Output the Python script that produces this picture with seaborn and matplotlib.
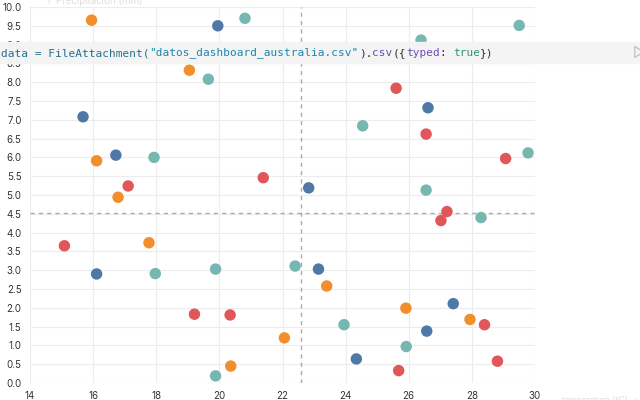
import pandas as pd
import matplotlib.pyplot as plt
from matplotlib.text import Annotation
import seaborn as sns

# -----------------------------
# Data (x = temperature, y = value)
# -----------------------------
orange_x = [15.95, 19.05, 16.11, 16.79, 17.77, 22.06, 20.36, 23.40, 25.91, 27.94]
orange_y = [9.65, 8.32, 5.91, 4.94, 3.73, 1.20, 0.45, 2.58, 1.99, 1.69]

blue_x = [19.95, 15.68, 26.61, 16.72, 22.83, 16.11, 23.14, 27.41, 26.57, 24.34]
blue_y = [9.50, 7.08, 7.32, 6.06, 5.19, 2.90, 3.03, 2.11, 1.38, 0.64]

teal_x = [20.81, 19.65, 29.50, 26.39, 24.54, 29.78, 26.55, 28.29, 17.93, 17.97,
          19.88, 22.40, 23.95, 25.92, 19.88]
teal_y = [9.70, 8.08, 9.51, 9.12, 6.84, 6.12, 5.13, 4.40, 6.00, 2.91,
          3.03, 3.11, 1.55, 0.97, 0.19]

red_x = [25.60, 26.55, 29.07, 27.21, 27.02, 17.11, 21.39, 15.09, 19.21, 20.34,
         28.40, 28.81, 25.68]
red_y = [7.84, 6.62, 5.97, 4.56, 4.32, 5.24, 5.46, 3.65, 1.83, 1.81,
         1.55, 0.58, 0.33]

groups = ["Brisbane", "Melbourne", "Perth", "Sydney"]
palette = {"Brisbane": "#f28e2c", "Melbourne": "#4e79a7",
           "Perth": "#76b7b2", "Sydney": "#e15759"}

# reference lines
x_ref = 22.6
y_ref = 4.52

frames = []
for g, xs, ys in zip(groups, [orange_x, blue_x, teal_x, red_x],
                     [orange_y, blue_y, teal_y, red_y]):
    frames.append(pd.DataFrame({"temp": xs, "valor": ys, "ciudad": g}))
df = pd.concat(frames, ignore_index=True)

# -----------------------------
# Plot
# -----------------------------
sns.set_style("white")
plt.rcParams["font.family"] = ["Inter", "DejaVu Sans"]

fig = plt.figure(figsize=(6.4, 4), dpi=100)
ax = fig.add_axes([30 / 640, 17 / 400, 505 / 640, 376 / 400])

ax.set_axisbelow(True)
ax.grid(True, color="#ececec", linewidth=0.8)
sns.scatterplot(data=df, x="temp", y="valor", hue="ciudad", palette=palette,
                s=68, linewidth=0, alpha=1, legend=False, ax=ax, zorder=3)

ax.axvline(x_ref, color="#aaaaaa", linestyle=(0, (3, 3)), linewidth=1, zorder=2)
ax.axhline(y_ref, color="#aaaaaa", linestyle=(0, (3, 3)), linewidth=1, zorder=2)

ax.set_xlim(14, 30)
ax.set_ylim(0, 10)
ax.set_xticks(range(14, 31, 2))
ax.set_yticks([i * 0.5 for i in range(21)])
ax.set_yticklabels([f"{i * 0.5:.1f}" for i in range(21)])
ax.set_xlabel("")
ax.set_ylabel("")
for s in ax.spines.values():
    s.set_visible(False)
ax.tick_params(axis="both", labelsize=7, colors="#333333", length=4,
               width=0.8, pad=2, color="#555555")

# faint axis labels, mostly clipped by the frame edges
fig.text(0.998, -0.012, "temperatura (°C) →", ha="right", va="bottom",
         fontsize=6, color="#dddddd")
fig.text(0.07, 1.012, "↑ Precipitación (mm)", ha="left", va="top",
         fontsize=7, color="#dddddd")

# -----------------------------
# Code cell overlay strip
# -----------------------------
fig.patches.append(plt.Rectangle((0, (400 - 63) / 400), 1, 21 / 400,
                                 transform=fig.transFigure, color="#f4f4f4",
                                 alpha=0.97, zorder=5))
parts = [("data = FileAttachment(", "#23708f"),
         ('"datos_dashboard_australia.csv"', "#1c88ad"),
         (").", "#333333"),
         ("csv", "#6f49b8"),
         ("({", "#333333"),
         ("typed", "#6f49b8"),
         (": ", "#333333"),
         ("true", "#2a9a6a"),
         ("})", "#333333")]

prev = fig.text(1 / 640, (400 - 56.5) / 400, parts[0][0], color=parts[0][1],
                fontsize=8.0, family="DejaVu Sans Mono", va="baseline",
                ha="left", zorder=6)
for txt, col in parts[1:]:
    ann = Annotation(txt, xy=(1, 0), xycoords=prev, xytext=(0, 0),
                     textcoords="offset points", color=col, fontsize=8.0,
                     family="DejaVu Sans Mono", va="bottom", ha="left",
                     annotation_clip=False)
    ann.set_zorder(6)
    fig.add_artist(ann)
    prev = ann

fig.text(633 / 640, (400 - 52.5) / 400, "▷", color="#bbbbbb", fontsize=10,
         va="center", ha="left", zorder=6)

plt.savefig("out.png", dpi=100)
plt.close()
